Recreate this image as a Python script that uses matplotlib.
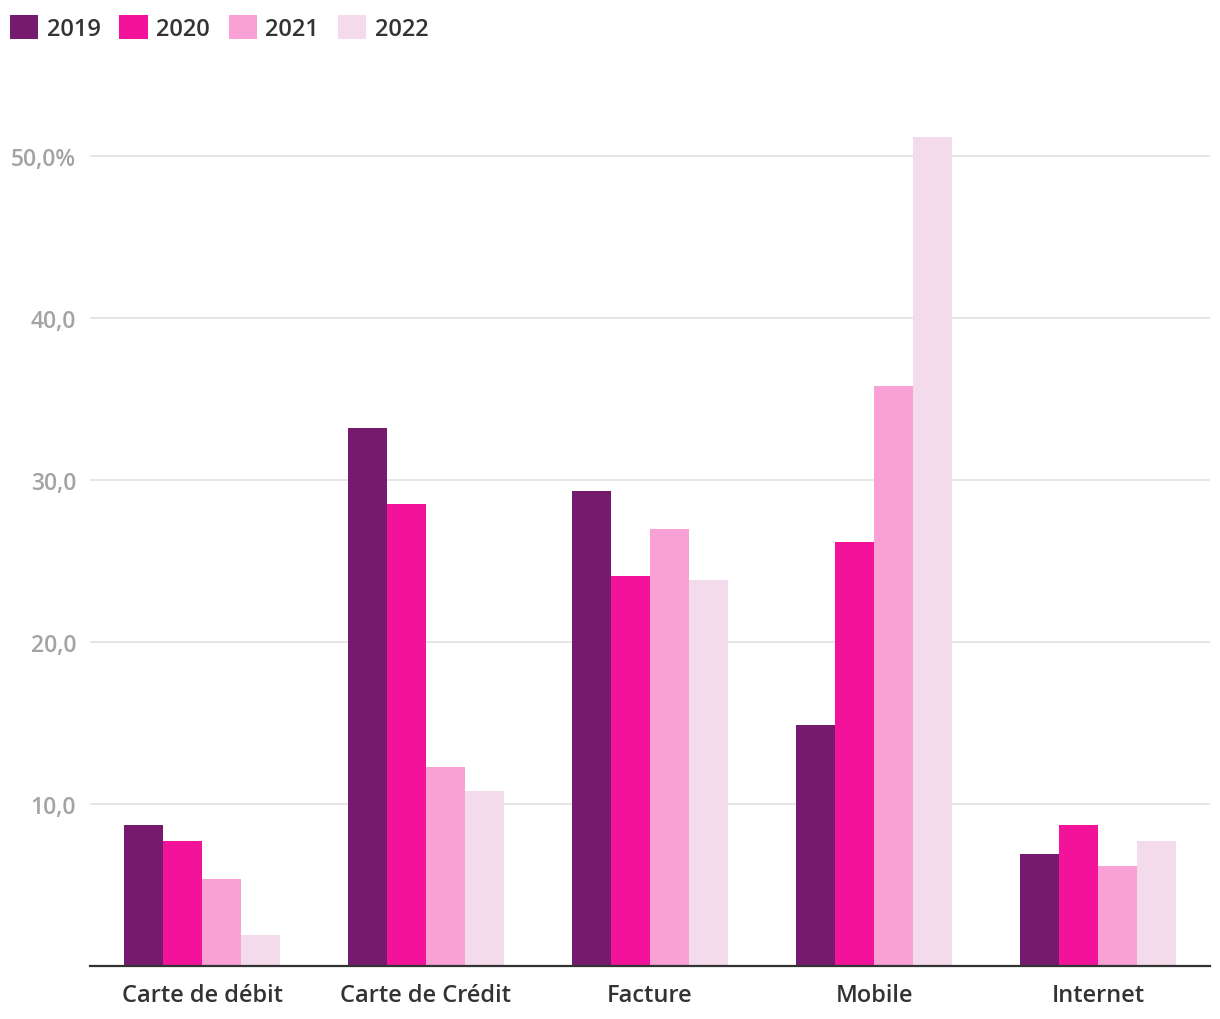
import numpy as np
import matplotlib
matplotlib.use("Agg")
import matplotlib.pyplot as plt
from matplotlib.patches import Patch

plt.rcParams["font.family"] = ["Open Sans", "DejaVu Sans"]

categories = ["Carte de débit", "Carte de Crédit", "Facture", "Mobile", "Internet"]
years = ["2019", "2020", "2021", "2022"]
v2019 = [8.7, 33.2, 29.3, 14.9, 6.9]
v2020 = [7.7, 28.5, 24.1, 26.2, 8.7]
v2021 = [5.4, 12.3, 27.0, 35.8, 6.2]
v2022 = [1.9, 10.8, 23.8, 51.2, 7.7]
series = [v2019, v2020, v2021, v2022]
colors = ["#761a6d", "#f3139a", "#f9a1d5", "#f3dbec"]
yticks = [10, 20, 30, 40, 50]
ytick_labels = ["10,0", "20,0", "30,0", "40,0", "50,0%"]

fig = plt.figure(figsize=(12.2, 10.2), dpi=100)
ax = fig.add_axes([90 / 1220, 1 - 967 / 1020, 1120 / 1220, 891 / 1020])

x = np.arange(len(categories))
w = 0.175
for i, (vals, c) in enumerate(zip(series, colors)):
    ax.bar(x + (i - 1.5) * w, vals, width=w, color=c, zorder=3)

ax.set_xlim(-0.5, len(categories) - 0.5)
ax.set_ylim(0, 55)
ax.set_yticks(yticks)
ax.set_yticklabels(ytick_labels, color="#a3a3a3", fontsize=16.5, fontweight=600)
ax.set_xticks(x)
ax.set_xticklabels(categories, color="#333333", fontsize=17, fontweight=600)
ax.tick_params(axis="y", length=0, pad=10)
ax.tick_params(axis="x", length=0, pad=12)
ax.grid(axis="y", color="#e2e2e2", lw=1.2, zorder=0)
for s in ["top", "right", "left"]:
    ax.spines[s].set_visible(False)
ax.spines["bottom"].set_color("#333333")
ax.spines["bottom"].set_linewidth(1.6)
ax.spines["bottom"].set_zorder(4)

handles = [Patch(facecolor=c, edgecolor="none") for c in colors]
fig.legend(handles, years, loc="upper left", bbox_to_anchor=(3 / 1220, 1 - 9 / 1020),
           ncol=4, frameon=False, prop={"size": 17, "weight": 600},
           handlelength=1.2, handleheight=1.2,
           handletextpad=0.35, columnspacing=0.8, labelcolor="#333333",
           borderaxespad=0, borderpad=0.3)

fig.savefig("out.png", dpi=100)
